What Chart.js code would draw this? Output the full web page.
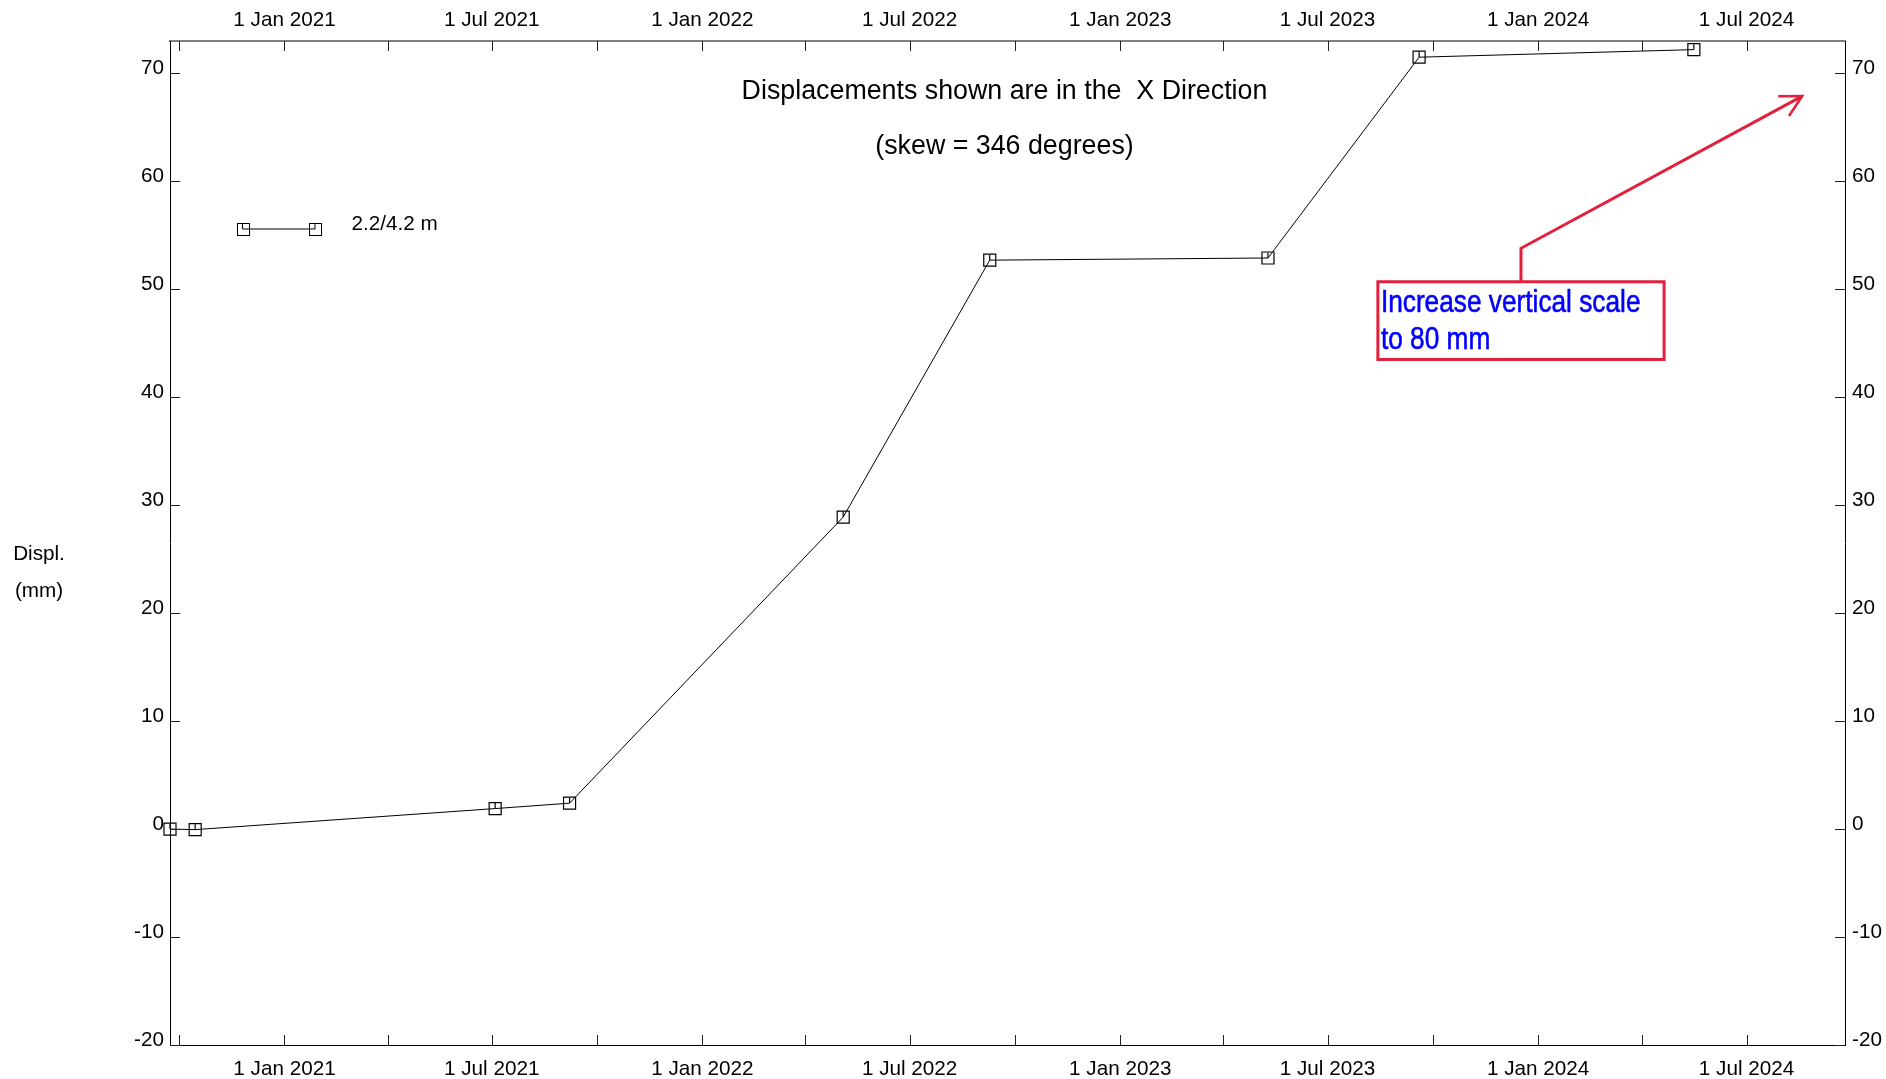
<!DOCTYPE html>
<html>
<head>
<meta charset="utf-8">
<title>Displacement - X Direction</title>
<script src="https://cdn.jsdelivr.net/npm/chart.js@4.4.1/dist/chart.umd.min.js"></script>
<style>
  html, body { margin: 0; padding: 0; background: #fff; }
  #wrap { width: 1886px; height: 1079px; }
</style>
</head>
<body>
<div id="wrap"><canvas id="chart" width="1886" height="1079"></canvas></div>
<script>
// Survey readings (displacement in the X direction, mm)
const readingDates = ['2020-09-23', '2020-10-15', '2021-07-04', '2021-09-07', '2022-05-04',
                      '2022-09-09', '2023-05-10', '2023-09-19', '2024-05-16'];
const displacementX = [0.0, -0.05, 1.9, 2.4, 28.9, 52.7, 52.9, 71.5, 72.2];
const seriesLabel = '2.2/4.2 m';

// Axis ranges and ticks
const xRange = ['2020-09-23', '2024-09-25'];
const xTickDates = ['2020-10-01', '2021-01-01', '2021-04-01', '2021-07-01', '2021-10-01',
                    '2022-01-01', '2022-04-01', '2022-07-01', '2022-10-01', '2023-01-01',
                    '2023-04-01', '2023-07-01', '2023-10-01', '2024-01-01', '2024-04-01',
                    '2024-07-01'];
const xTickLabels = ['', '1 Jan 2021', '', '1 Jul 2021', '', '1 Jan 2022', '', '1 Jul 2022', '',
                     '1 Jan 2023', '', '1 Jul 2023', '', '1 Jan 2024', '', '1 Jul 2024'];
const yRange = [-20, 73];
const yTickValues = [-20, -10, 0, 10, 20, 30, 40, 50, 60, 70];

// Text
const titleLines = ['Displacements shown are in the  X Direction', '(skew = 346 degrees)'];
const yTitleLines = ['Displ.', '(mm)'];
const noteLines = ['Increase vertical scale', 'to 80 mm'];

// Note box and arrow, placed in axis units (date, mm)
const noteBox = { from: ['2023-08-14', 50.7], to: ['2024-04-20', 43.5] };
const noteElbow = 53.8;
const noteTip = ['2024-08-18T16:00:00', 67.9];

const ts = s => new Date(s.length === 10 ? s + 'T00:00:00Z' : s + 'Z').getTime();

const FONT = "'Liberation Sans', Arial, Helvetica, sans-serif";
Chart.defaults.font.family = FONT;
Chart.defaults.color = '#000';

const RED = '#e3203c';
const BLUE = '#0000ff';
const LABEL_SIZE = 20.7;

const decor = {
  id: 'decor',
  afterDatasetsDraw(chart) {
    // short inner stroke inside each reading marker
    const { ctx } = chart;
    const meta = chart.getDatasetMeta(0);
    ctx.save();
    ctx.strokeStyle = '#000';
    ctx.lineWidth = 1.2;
    meta.data.forEach(pt => {
      ctx.beginPath();
      ctx.moveTo(pt.x, pt.y);
      ctx.lineTo(pt.x, pt.y - 5.5);
      ctx.stroke();
    });
    ctx.restore();
  },
  afterDraw(chart) {
    const { ctx, chartArea: a, scales } = chart;
    const line = (x1, y1, x2, y2) => { ctx.beginPath(); ctx.moveTo(x1, y1); ctx.lineTo(x2, y2); ctx.stroke(); };

    // inward tick marks on all four sides
    ctx.save();
    ctx.strokeStyle = '#222';
    ctx.lineWidth = 1;
    const len = 10;
    yTickValues.forEach(v => {
      const py = Math.round(scales.y.getPixelForValue(v)) + 0.5;
      line(a.left, py, a.left + len, py);
      line(a.right - len, py, a.right, py);
    });
    xTickDates.forEach(d => {
      const px = Math.round(scales.x.getPixelForValue(ts(d))) + 0.5;
      line(px, a.top, px, a.top + len);
      line(px, a.bottom - len, px, a.bottom);
    });
    ctx.restore();

    // title lines inside the plot
    ctx.save();
    ctx.fillStyle = '#000';
    ctx.textAlign = 'center';
    ctx.textBaseline = 'middle';
    ctx.font = '26.8px ' + FONT;
    const cx = (a.left + a.right) / 2 - 3;
    ctx.fillText(titleLines[0], cx, a.top + 50.5);
    ctx.fillText(titleLines[1], cx, a.top + 105.5);

    // y-axis title
    ctx.font = LABEL_SIZE + 'px ' + FONT;
    ctx.textBaseline = 'alphabetic';
    const my = (a.top + a.bottom) / 2;
    ctx.fillText(yTitleLines[0], 39, my + 17);
    ctx.fillText(yTitleLines[1], 39, my + 54);

    // legend entry
    const ds = chart.data.datasets[0];
    const ly = a.top + 188;
    const lx1 = a.left + 72.5, lx2 = a.left + 145;
    ctx.strokeStyle = '#000';
    ctx.lineWidth = 1;
    line(lx1, ly, lx2, ly);
    [lx1, lx2].forEach(x => {
      ctx.strokeRect(Math.round(x - 6) + 0.5, Math.round(ly - 6) + 0.5, 12, 12);
      line(x, ly, x, ly - 5.5);
    });
    ctx.textAlign = 'left';
    ctx.textBaseline = 'middle';
    ctx.fillText(ds.label, a.left + 181.5, ly - 5);
    ctx.restore();

    // note box with arrow
    const bx1 = scales.x.getPixelForValue(ts(noteBox.from[0]));
    const by1 = scales.y.getPixelForValue(noteBox.from[1]);
    const bx2 = scales.x.getPixelForValue(ts(noteBox.to[0]));
    const by2 = scales.y.getPixelForValue(noteBox.to[1]);
    const ex = (bx1 + bx2) / 2;
    const ey = scales.y.getPixelForValue(noteElbow);
    const tx = scales.x.getPixelForValue(ts(noteTip[0]));
    const ty = scales.y.getPixelForValue(noteTip[1]);

    ctx.save();
    ctx.strokeStyle = RED;
    ctx.lineWidth = 3;
    ctx.lineJoin = 'miter';
    ctx.strokeRect(bx1, by1, bx2 - bx1, by2 - by1);
    ctx.beginPath();
    ctx.moveTo(ex, by1);
    ctx.lineTo(ex, ey);
    ctx.lineTo(tx, ty);
    ctx.stroke();
    const ang = Math.atan2(ey - ty, ex - tx);
    const arm = 24, spread = 28 * Math.PI / 180;
    ctx.lineWidth = 2.5;
    ctx.beginPath();
    ctx.moveTo(tx + arm * Math.cos(ang + spread), ty + arm * Math.sin(ang + spread));
    ctx.lineTo(tx, ty);
    ctx.lineTo(tx + arm * Math.cos(ang - spread), ty + arm * Math.sin(ang - spread));
    ctx.stroke();

    // condensed blue note text
    ctx.fillStyle = BLUE;
    ctx.strokeStyle = BLUE;
    ctx.lineWidth = 0.6;
    ctx.font = '32px ' + FONT;
    ctx.textAlign = 'left';
    ctx.textBaseline = 'alphabetic';
    const squeeze = 0.82;
    [0, 1].forEach(i => {
      ctx.save();
      ctx.translate(bx1 + 3, by1 + 30 + i * 37.5);
      ctx.scale(squeeze, 1);
      ctx.fillText(noteLines[i], 0, 0);
      ctx.strokeText(noteLines[i], 0, 0);
      ctx.restore();
    });
    ctx.restore();
  }
};

const xTicksBase = {
  autoSkip: false,
  maxRotation: 0,
  minRotation: 0,
  color: '#000',
  font: { size: LABEL_SIZE },
  callback: (v, i) => xTickLabels[i]
};
const yTicksCfg = {
  padding: 6,
  labelOffset: -5,
  color: '#000',
  font: { size: LABEL_SIZE }
};
const setXTicks = s => { s.ticks = xTickDates.map(d => ({ value: ts(d) })); };
const setYTicks = s => { s.ticks = yTickValues.map(v => ({ value: v })); };

new Chart(document.getElementById('chart'), {
  type: 'line',
  data: {
    datasets: [{
      label: seriesLabel,
      data: readingDates.map((d, i) => ({ x: ts(d), y: displacementX[i] })),
      borderColor: '#000',
      borderWidth: 1,
      tension: 0,
      pointStyle: 'rect',
      pointRadius: 8.5,
      pointHoverRadius: 8.5,
      pointBorderColor: '#000',
      pointBorderWidth: 1.2,
      pointBackgroundColor: 'rgba(255,255,255,0)',
      clip: false,
      xAxisID: 'x',
      yAxisID: 'y'
    }]
  },
  options: {
    responsive: false,
    animation: false,
    devicePixelRatio: 1,
    layout: { padding: 0 },
    plugins: {
      legend: { display: false },
      title: { display: false },
      tooltip: { enabled: false }
    },
    scales: {
      x: {
        type: 'linear', position: 'bottom',
        min: ts(xRange[0]), max: ts(xRange[1]),
        afterBuildTicks: setXTicks,
        afterFit: s => { s.height = 34; },
        ticks: Object.assign({}, xTicksBase, { padding: 11.5 }),
        grid: { display: false, drawTicks: false },
        border: { display: true, color: '#000', width: 1 }
      },
      xTop: {
        type: 'linear', position: 'top',
        min: ts(xRange[0]), max: ts(xRange[1]),
        afterBuildTicks: setXTicks,
        afterFit: s => { s.height = 41; },
        ticks: Object.assign({}, xTicksBase, { padding: 8 }),
        grid: { display: false, drawTicks: false },
        border: { display: true, color: '#808080', width: 2 }
      },
      y: {
        type: 'linear', position: 'left',
        min: yRange[0], max: yRange[1],
        afterBuildTicks: setYTicks,
        afterFit: s => { s.width = 170; },
        ticks: yTicksCfg,
        grid: { display: false, drawTicks: false },
        border: { display: true, color: '#000', width: 1 }
      },
      yRight: {
        type: 'linear', position: 'right',
        min: yRange[0], max: yRange[1],
        afterBuildTicks: setYTicks,
        afterFit: s => { s.width = 41; },
        ticks: Object.assign({}, yTicksCfg, { padding: 7 }),
        grid: { display: false, drawTicks: false },
        border: { display: true, color: '#000', width: 1 }
      }
    }
  },
  plugins: [decor]
});
</script>
</body>
</html>
